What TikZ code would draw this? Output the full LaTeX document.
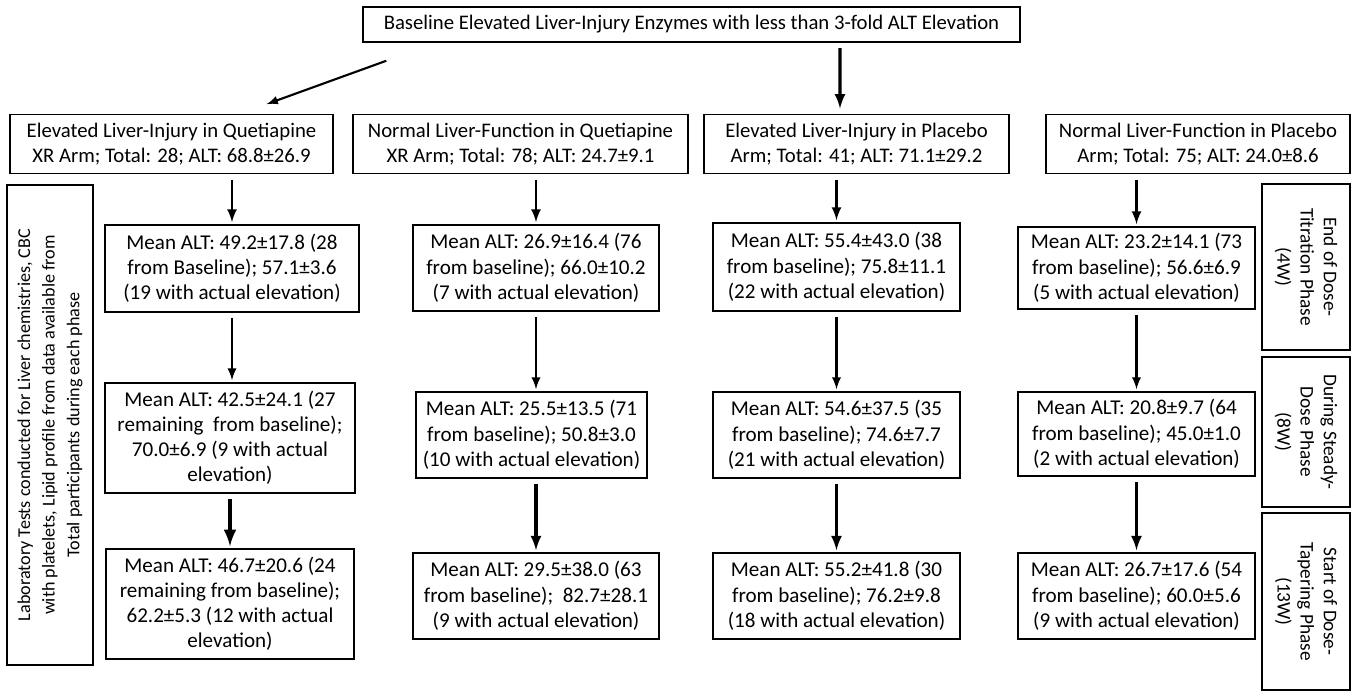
\documentclass[tikz,border=0pt]{standalone}
\usepackage{fontspec}
\setmainfont{Carlito}
\usetikzlibrary{positioning,calc}

\begin{document}
\begin{tikzpicture}[x=0.02cm,y=-0.02cm,
  box/.style={draw,line width=0.9pt,align=center,inner sep=2pt,font=\fontsize{12}{14.4}\selectfont},
  cell/.style={box,anchor=north},
  phase/.style={box,rotate=-90,minimum height=1.76cm,font=\fontsize{11}{13.2}\selectfont},
  arr/.style={-latex,line width=1.5pt,shorten <=3pt,shorten >=1pt}]
\useasboundingbox (0,0) rectangle (1357,692);
% Baseline
\node[box,minimum width=13.14cm,minimum height=0.7cm,font=\fontsize{11.8}{14}\selectfont] (base) at (691.5,24.5) {Baseline Elevated Liver-Injury Enzymes with less than 3-fold ALT Elevation};

% Arms
\node[box,minimum width=6.46cm,minimum height=1.18cm,font=\fontsize{11.8}{14.4}\selectfont] (arm1) at (171.5,144) {Elevated Liver-Injury in Quetiapine\\XR Arm; Total: 28; ALT: 68.8±26.9};
\node[box,minimum width=6.7cm,minimum height=1.18cm,font=\fontsize{11.8}{14.4}\selectfont] (arm2) at (520.5,144) {Normal Liver-Function in Quetiapine\\XR Arm; Total: 78; ALT: 24.7±9.1};
\node[box,minimum width=6.1cm,minimum height=1.18cm,font=\fontsize{11.8}{14.4}\selectfont] (arm3) at (856.5,144) {Elevated Liver-Injury in Placebo\\Arm; Total: 41; ALT: 71.1±29.2};
\node[box,minimum width=6.08cm,minimum height=1.18cm,font=\fontsize{11.8}{14.4}\selectfont] (arm4) at (1198,144) {Normal Liver-Function in Placebo\\Arm; Total: 75; ALT: 24.0±8.6};

% Side labels
\node[box,rotate=90,minimum width=9.6cm,minimum height=1.72cm,font=\fontsize{10.3}{14}\selectfont] (lab) at (50,425) {Laboratory Tests conducted for Liver chemistries, CBC\\with platelets, Lipid profile from data available from\\Total participants during each phase};
\node[phase,minimum width=3.32cm] (ph1) at (1306,267) {End of Dose-\\Titration Phase\\(4W)};
\node[phase,minimum width=3cm] (ph2) at (1306,432) {During Steady-\\Dose Phase\\(8W)};
\node[phase,minimum width=3.54cm] (ph3) at (1306,601.5) {Start of Dose-\\Tapering Phase\\(13W)};

% Quetiapine XR, elevated
\node[cell,minimum width=5.08cm,minimum height=1.74cm] (r1c1) at (232,224) {Mean ALT: 49.2±17.8 (28\\from Baseline); 57.1±3.6\\(19 with actual elevation)};
\node[cell,minimum width=5cm,minimum height=2.2cm] (r2c1) at (230,382) {Mean ALT: 42.5±24.1 (27\\remaining \ from baseline);\\70.0±6.9 (9 with actual\\elevation)};
\node[cell,minimum width=4.96cm,minimum height=2.2cm] (r3c1) at (230,548) {Mean ALT: 46.7±20.6 (24\\remaining from baseline);\\62.2±5.3 (12 with actual\\elevation)};

% Quetiapine XR, normal
\node[cell,minimum width=4.92cm,minimum height=1.72cm] (r1c2) at (536,224) {Mean ALT: 26.9±16.4 (76\\from baseline); 66.0±10.2\\(7 with actual elevation)};
\node[cell,minimum width=4.62cm,minimum height=1.72cm] (r2c2) at (531.5,391) {Mean ALT: 25.5±13.5 (71\\from baseline); 50.8±3.0\\(10 with actual elevation)};
\node[cell,minimum width=4.92cm,minimum height=1.72cm] (r3c2) at (536,552) {Mean ALT: 29.5±38.0 (63\\from baseline); \ 82.7±28.1\\(9 with actual elevation)};

% Placebo, elevated
\node[cell,minimum width=4.94cm,minimum height=1.76cm] (r1c3) at (836.5,222) {Mean ALT: 55.4±43.0 (38\\from baseline); 75.8±11.1\\(22 with actual elevation)};
\node[cell,minimum width=4.94cm,minimum height=1.72cm] (r2c3) at (836.5,391) {Mean ALT: 54.6±37.5 (35\\from baseline); 74.6±7.7\\(21 with actual elevation)};
\node[cell,minimum width=4.94cm,minimum height=1.72cm] (r3c3) at (836.5,552) {Mean ALT: 55.2±41.8 (30\\from baseline); 76.2±9.8\\(18 with actual elevation)};

% Placebo, normal
\node[cell,minimum width=4.74cm,minimum height=1.64cm] (r1c4) at (1136.5,226) {Mean ALT: 23.2±14.1 (73\\from baseline); 56.6±6.9\\(5 with actual elevation)};
\node[cell,minimum width=4.74cm,minimum height=1.68cm] (r2c4) at (1136.5,391) {Mean ALT: 20.8±9.7 (64\\from baseline); 45.0±1.0\\(2 with actual elevation)};
\node[cell,minimum width=4.74cm,minimum height=1.72cm] (r3c4) at (1136.5,552) {Mean ALT: 26.7±17.6 (54\\from baseline); 60.0±5.6\\(9 with actual elevation)};

% Arrows
\draw[arr,line width=1.2pt,shorten <=0pt] ($(base.south west)+(24,18)$) -- ($(arm1.north)+(93.5,-9)$);
\draw[arr,line width=1.8pt,shorten >=3pt] ([xshift=2.97cm]base.south) -- ([xshift=-0.33cm]arm3.north);
\foreach \c in {1,...,4} {
  \draw[arr] (arm\c.south -| r1c\c.north) -- (r1c\c.north);
  \draw[arr,line width=1.3pt] (r1c\c.south) -- (r2c\c.north -| r1c\c.south);
}
\draw[arr,line width=2.2pt] (r2c1.south) -- (r3c1.north);
\foreach \c in {2,3,4}
  \draw[arr,line width=1.8pt] (r2c\c.south -| r3c\c.north) -- (r3c\c.north);

\end{tikzpicture}
\end{document}
